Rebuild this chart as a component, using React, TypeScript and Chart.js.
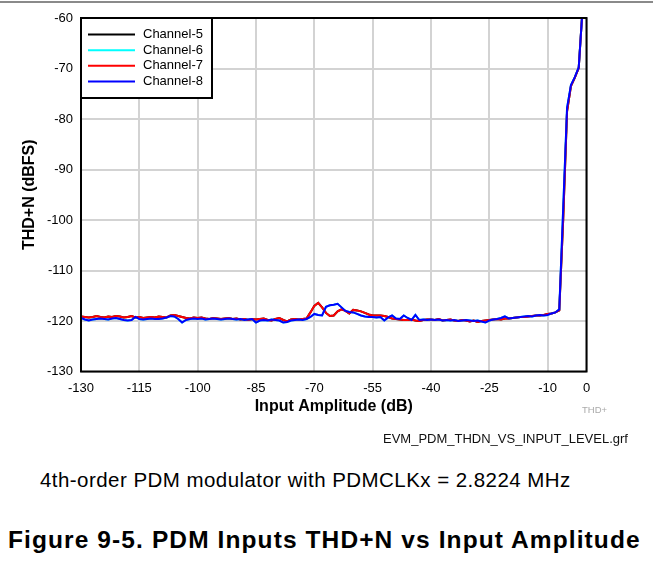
import React, { useEffect, useRef } from "react";
import { Chart, registerables } from "chart.js";

Chart.register(...registerables);

const FONT = '"Liberation Sans", Arial, Helvetica, sans-serif';

// Input amplitude sweep (dB)
const INPUT_LEVEL_DB = [
  -130, -129, -128, -127, -126, -125, -124, -123, -122, -121,
  -120, -119, -118, -117, -116, -115, -114, -113, -112, -111,
  -110, -109, -108, -107, -106, -105, -104, -103, -102, -101,
  -100, -99, -98, -97, -96, -95, -94, -93, -92, -91,
  -90, -89, -88, -87, -86, -85, -84, -83, -82, -81,
  -80, -79, -78, -77, -76, -75, -74, -73, -72, -71,
  -70, -69, -68, -67, -66, -65, -64, -63, -62, -61,
  -60, -59, -58, -57, -56, -55, -54, -53, -52, -51,
  -50, -49, -48, -47, -46, -45, -44, -43, -42, -41,
  -40, -39, -38, -37, -36, -35, -34, -33, -32, -31,
  -30, -29, -28, -27, -26, -25, -24, -23, -22, -21,
  -20, -19, -18, -17, -16, -15, -14, -13, -12, -11,
  -10, -9, -8, -7, -6, -5, -4, -3, -2, -1,
];

// Channel-7 THD+N (dBFS)
const CH7 = [
  -119.1, -119.2, -119.3, -119.2, -119.0, -119.2, -119.3, -119.1, -119.2, -119.0,
  -119.1, -119.3, -119.2, -119.0, -119.3, -119.2, -119.4, -119.3, -119.2, -119.3,
  -119.1, -119.2, -119.3, -118.9, -118.8, -119.0, -119.2, -119.4, -119.5, -119.3,
  -119.4, -119.3, -119.5, -119.6, -119.4, -119.5, -119.6, -119.5, -119.4, -119.6,
  -119.5, -119.7, -119.6, -119.8, -119.6, -119.7, -119.6, -119.5, -119.8, -119.9,
  -119.6, -119.4, -119.8, -120.1, -119.7, -119.6, -119.7, -119.6, -119.5, -118.3,
  -117.0, -116.4, -117.3, -118.4, -119.0, -118.9, -118.1, -117.7, -118.0, -118.5,
  -117.8, -117.9, -118.1, -118.4, -118.7, -118.9, -118.9, -118.9, -119.0, -119.2,
  -119.5, -119.6, -119.7, -119.8, -119.8, -119.7, -119.9, -120.0, -119.8, -119.7,
  -119.7, -119.8, -119.6, -119.9, -119.8, -119.7, -119.9, -120.0, -119.8, -119.9,
  -120.1, -119.9, -120.2, -120.0, -119.9, -119.8, -119.7, -119.6, -119.7, -119.5,
  -119.5, -119.4, -119.3, -119.2, -119.2, -119.1, -119.0, -118.9, -118.9, -118.8,
  -118.6, -118.5, -118.3, -117.9, -100.0, -78.5, -73.5, -71.8, -69.9, -58.0,
];

// Channel-8 THD+N (dBFS)
const CH8 = [
  -119.4, -119.7, -119.9, -119.7, -119.6, -119.5, -119.6, -119.7, -119.5, -119.4,
  -119.6, -119.8, -119.9, -119.8, -119.2, -119.6, -119.7, -119.6, -119.5, -119.6,
  -119.6, -119.5, -119.3, -119.0, -119.1, -119.6, -120.3, -119.8, -119.6, -119.5,
  -119.6, -119.5, -119.7, -119.6, -119.5, -119.6, -119.7, -119.6, -119.5, -119.6,
  -119.7, -119.6, -119.8, -119.7, -119.6, -120.3, -119.9, -119.8, -119.9, -119.7,
  -119.8, -119.9, -120.3, -120.2, -119.9, -119.8, -119.7, -119.8, -119.6, -119.2,
  -118.6, -118.8, -118.9, -117.2, -116.9, -116.8, -116.6, -117.3, -118.0, -118.2,
  -118.3, -118.6, -118.9, -119.1, -119.2, -119.2, -119.3, -119.2, -119.9, -119.3,
  -118.9, -119.5, -119.6, -118.9, -119.4, -119.8, -118.8, -119.8, -119.7, -119.8,
  -119.7, -119.8, -119.7, -119.9, -119.8, -119.9, -119.8, -120.0, -119.9, -119.8,
  -119.9, -120.0, -119.9, -120.1, -120.3, -119.9, -119.7, -119.6, -119.4, -119.1,
  -119.5, -119.4, -119.3, -119.2, -119.1, -119.0, -119.1, -118.9, -118.8, -118.9,
  -118.8, -118.5, -118.3, -117.7, -97.8, -77.8, -73.3, -71.7, -69.8, -58.0,
];

// Channel-5 and Channel-6 are fully hidden beneath Channel-7 / Channel-8 in the plot
const CH5 = [...CH7];
const CH6 = [...CH8];

const SERIES_LABELS = ["Channel-5", "Channel-6", "Channel-7", "Channel-8"];
const SERIES_COLORS = ["#000000", "#00ffff", "#ff0000", "#0000ff"];
const SERIES_VALUES = [CH5, CH6, CH7, CH8];

const X_TICKS = [-130, -115, -100, -85, -70, -55, -40, -25, -10, 0];
const Y_MIN = -130;
const Y_MAX = -60;
const Y_STEP = 10;

const frameLegendPlugin = {
  id: "frameLegend",
  afterDatasetsDraw(chart: any) {
    const { ctx, chartArea: ca } = chart;
    ctx.save();
    const lx = ca.left;
    const ly = ca.top;
    const lw = 131;
    const lh = 80;
    ctx.fillStyle = "#ffffff";
    ctx.fillRect(lx, ly, lw, lh);
    ctx.lineWidth = 2;
    ctx.strokeStyle = "#000000";
    ctx.strokeRect(lx, ly, lw, lh);
    ctx.font = `13px ${FONT}`;
    ctx.textBaseline = "middle";
    ctx.textAlign = "left";
    chart.data.datasets.forEach((ds: any, i: number) => {
      const y = ly + 16.5 + i * 15.67;
      ctx.strokeStyle = ds.borderColor;
      ctx.lineWidth = 2;
      ctx.beginPath();
      ctx.moveTo(lx + 7, y);
      ctx.lineTo(lx + 54, y);
      ctx.stroke();
      ctx.fillStyle = "#000000";
      ctx.fillText(ds.label, lx + 62, y);
    });
    ctx.strokeStyle = "#000000";
    ctx.lineWidth = 2;
    ctx.strokeRect(ca.left, ca.top, ca.right - ca.left, ca.bottom - ca.top);
    ctx.restore();
  },
};

export default function App() {
  const ref = useRef<HTMLCanvasElement>(null);

  useEffect(() => {
    if (!ref.current) return;
    Chart.defaults.font.family = FONT;
    Chart.defaults.color = "#000000";
    const datasets = SERIES_LABELS.map((label, i) => ({
      label,
      data: INPUT_LEVEL_DB.map((x, j) => ({ x, y: SERIES_VALUES[i][j] })),
      borderColor: SERIES_COLORS[i],
      backgroundColor: SERIES_COLORS[i],
      borderWidth: 2,
      pointRadius: 0,
      tension: 0,
      fill: false,
      order: SERIES_LABELS.length - 1 - i,
    }));
    const chart = new Chart(ref.current, {
      type: "line",
      data: { datasets },
      options: {
        animation: false,
        responsive: false,
        maintainAspectRatio: false,
        devicePixelRatio: 1,
        parsing: false as any,
        layout: { padding: { top: 18, right: 66.5, left: 0, bottom: 0 } },
        plugins: {
          legend: { display: false },
          tooltip: { enabled: false },
        },
        scales: {
          x: {
            type: "linear",
            min: -130,
            max: 0,
            afterBuildTicks: (scale: any) => {
              scale.ticks = X_TICKS.map((v) => ({ value: v }));
            },
            afterFit: (scale: any) => {
              scale.height = 58.5;
            },
            ticks: {
              autoSkip: false,
              maxRotation: 0,
              padding: 9.5,
              color: "#000000",
              font: { size: 13, family: FONT },
            },
            grid: { color: "#d3d3d3", lineWidth: 2, drawTicks: false },
            border: { display: false },
            title: {
              display: true,
              text: "Input Amplitude (dB)",
              color: "#000000",
              font: { size: 16, weight: "bold", family: FONT },
              padding: { top: 0, bottom: 13.9 },
            },
          },
          y: {
            type: "linear",
            min: Y_MIN,
            max: Y_MAX,
            afterFit: (scale: any) => {
              scale.width = 81;
            },
            ticks: {
              stepSize: Y_STEP,
              padding: 8,
              color: "#000000",
              font: { size: 13, family: FONT },
            },
            grid: { color: "#d3d3d3", lineWidth: 2, drawTicks: false },
            border: { display: false },
            title: {
              display: true,
              text: "THD+N (dBFS)",
              color: "#000000",
              font: { size: 16, weight: "bold", family: FONT },
              padding: { top: 19.6, bottom: 0 },
            },
          },
        },
      } as any,
      plugins: [frameLegendPlugin],
    });
    return () => chart.destroy();
  }, []);

  const textBase: React.CSSProperties = {
    position: "absolute",
    margin: 0,
    whiteSpace: "nowrap",
    fontFamily: FONT,
    lineHeight: 1,
  };

  return (
    <div
      style={{
        position: "absolute",
        left: 0,
        top: 0,
        width: 653,
        height: 568,
        background: "#ffffff",
        overflow: "hidden",
      }}
    >
      <canvas
        ref={ref}
        width={653}
        height={430}
        style={{ position: "absolute", left: 0, top: 0, width: 653, height: 430 }}
      />
      <div
        style={{
          position: "absolute",
          left: 0,
          top: 1,
          width: 653,
          height: 2,
          background: "#8a8a8a",
        }}
      />
      <div style={{ ...textBase, left: 582, top: 405.4, fontSize: 9.5, color: "#aaaaaa" }}>THD+</div>
      <div style={{ ...textBase, left: 383, top: 432.4, fontSize: 13, color: "#111111" }}>
        EVM_PDM_THDN_VS_INPUT_LEVEL.grf
      </div>
      <div
        style={{
          ...textBase,
          left: 40,
          top: 469.5,
          fontSize: 20.5,
          letterSpacing: 0.45,
          color: "#000000",
        }}
      >
        4th-order PDM modulator with PDMCLKx = 2.8224 MHz
      </div>
      <div
        style={{
          ...textBase,
          left: 8,
          top: 528,
          fontSize: 24.5,
          fontWeight: "bold",
          letterSpacing: 1.1,
          color: "#000000",
        }}
      >
        Figure 9-5. PDM Inputs THD+N vs Input Amplitude
      </div>
    </div>
  );
}
